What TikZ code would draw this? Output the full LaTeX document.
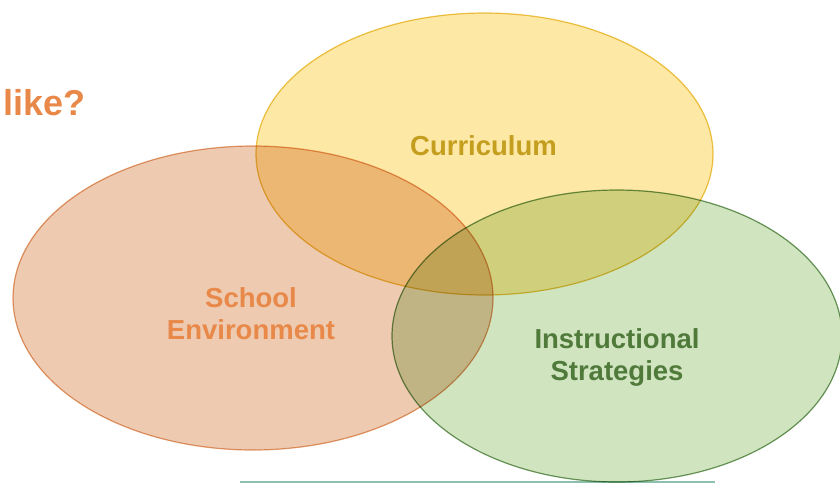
\documentclass[tikz,border=0pt]{standalone}
\usepackage{xcolor}
\usepackage{fontspec}
\setmainfont{Liberation Sans}
\usetikzlibrary{positioning}
\definecolor{peach}{HTML}{EDCAB0}
\definecolor{peachline}{HTML}{E6A070}
\definecolor{butter}{HTML}{FEE8A6}
\definecolor{butterline}{HTML}{EBC84C}
\definecolor{sage}{HTML}{D0E4C0}
\definecolor{sageline}{HTML}{6F9960}
\definecolor{stripteal}{HTML}{8CC0B0}
\definecolor{orangetext}{HTML}{E8894A}
\definecolor{goldtext}{HTML}{C49E1E}
\definecolor{greentext}{HTML}{4F7A3A}
\tikzset{
  label text/.style = {font=\bfseries\fontsize{13.75}{16}\selectfont, align=center, inner sep=0pt},
  set/.style = {line width=0.6pt, blend mode=multiply}
}

\begin{document}
\begin{tikzpicture}[x=0.5pt, y=-0.5pt]
    \useasboundingbox (0, 0) rectangle (840, 483);
    \fill[stripteal] (240, 480.5) rectangle (715, 483);
    {
      \filldraw[set, fill = peach, draw = peachline] (253, 298) ellipse [x radius = 240, y radius = 152];
      \filldraw[set, fill = butter, draw = butterline] (484.5, 154) ellipse [x radius = 228.5, y radius = 141];
      \filldraw[set, fill = sage, draw = sageline] (617, 336) ellipse [x radius = 225, y radius = 146];
    }
    \node[anchor = base west, font = \bfseries\fontsize{18}{20}\selectfont, text = orangetext, inner sep = 0pt] (like) at (3, 115) {like?};
    \node[label text, anchor = base, text = goldtext] (curriculum) at (483.5, 155) {Curriculum};
    \node[label text, text = orangetext] (school) at (251, 314) {School\\Environment};
    \node[label text, text = greentext] (instruct) at (617, 357) {Instructional\\Strategies};
\end{tikzpicture}
\end{document}
